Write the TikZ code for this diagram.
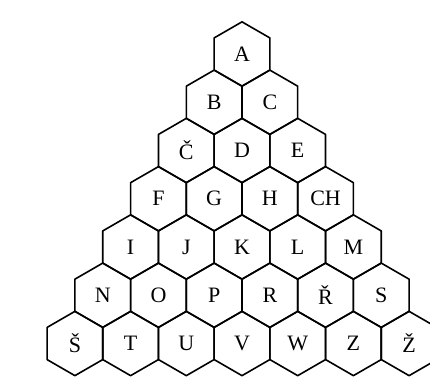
\documentclass[tikz,border=0pt]{standalone}
\usepackage{fontspec}
\setmainfont{Liberation Serif}
\usetikzlibrary{shapes.geometric}
\begin{document}
\begin{tikzpicture}[x=1pt,y=-1pt,
  hexcell/.style={regular polygon, regular polygon sides=6, shape border rotate=30,
    minimum size=64.3pt, inner sep=0pt, draw, line width=1.6pt, line join=round,
    font=\fontsize{22}{22}\selectfont}]
\useasboundingbox (0,0) rectangle (430,382);
\foreach \row [count=\r from 0] in {{A},{B,C},{Č,D,E},{F,G,H,CH},{I,J,K,L,M},{N,O,P,R,Ř,S},{Š,T,U,V,W,Z,Ž}} {
  \foreach \lab [count=\i from 0] in \row {
    \node[hexcell] (h\r-\i) at ({242+(\i-\r/2)*55.7},{54+\r*48.25}) {\lab};
  }
}
\end{tikzpicture}
\end{document}
